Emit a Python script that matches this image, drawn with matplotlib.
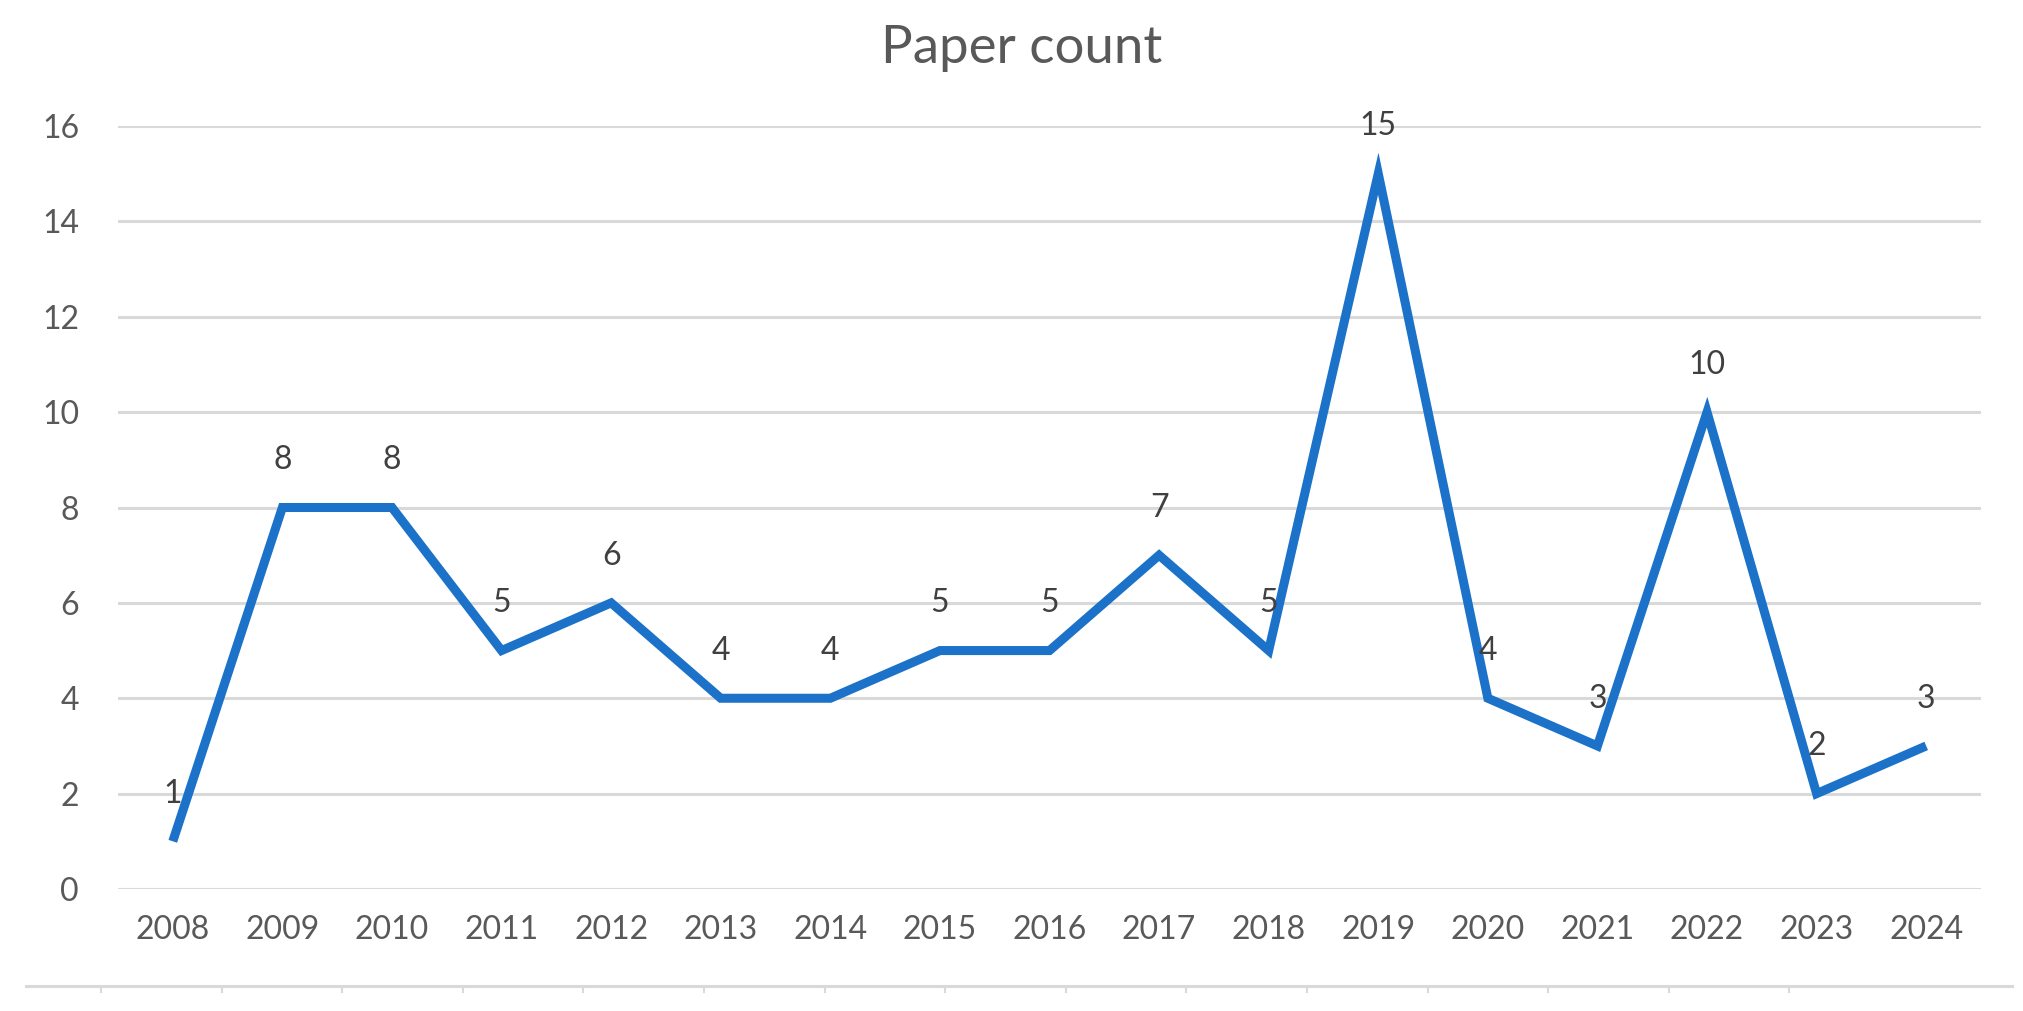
import numpy as np
import matplotlib
matplotlib.use("Agg")
import matplotlib.pyplot as plt
from matplotlib.lines import Line2D

years = ['2008', '2009', '2010', '2011', '2012', '2013', '2014', '2015', '2016',
         '2017', '2018', '2019', '2020', '2021', '2022', '2023', '2024']
counts = [1, 8, 8, 5, 6, 4, 4, 5, 5, 7, 5, 15, 4, 3, 10, 2, 3]
y_ticks = [0, 2, 4, 6, 8, 10, 12, 14, 16]

plt.rcParams['font.family'] = ['Lato', 'DejaVu Sans']

W, H = 2024, 1011
fig = plt.figure(figsize=(W / 100, H / 100), dpi=100)
ax = fig.add_axes([118 / W, 1 - 889 / H, (1981 - 118) / W, (889 - 126) / H])

x = np.arange(len(years))
ax.plot(x, counts, color='#1B72C8', lw=6.5, solid_joinstyle='miter',
        solid_capstyle='butt', clip_on=False, zorder=3)

for xi, c in zip(x, counts):
    ax.annotate(str(c), (xi, c), xytext=(0, 34), textcoords='offset points',
                ha='center', va='center', fontsize=23, color='#404040', zorder=4)

ax.set_xlim(-0.5, len(years) - 0.5)
ax.set_ylim(0, 16)
ax.set_yticks(y_ticks)
ax.set_xticks(x)
ax.set_xticklabels(years)
ax.tick_params(axis='both', length=0, labelsize=23, labelcolor='#595959')
ax.tick_params(axis='y', pad=28)
ax.tick_params(axis='x', pad=19)
ax.grid(axis='y', color='#D9D9D9', lw=2.2)
ax.set_axisbelow(True)
for s in ax.spines.values():
    s.set_visible(False)

fig.text(1022 / W, 1 - 48 / H, 'Paper count', ha='center', va='center',
         fontsize=38, color='#595959')

# leftover axis strip at the bottom of the screenshot
fig.add_artist(Line2D([26 / W, 2012 / W], [1 - 986 / H, 1 - 986 / H],
                      color='#D9D9D9', lw=2.2))
for k in range(15):
    tx = (101 + 120.6 * k) / W
    fig.add_artist(Line2D([tx, tx], [1 - 986 / H, 1 - 992 / H],
                          color='#D9D9D9', lw=1.5))

fig.savefig('out.png', dpi=100, facecolor='white')
